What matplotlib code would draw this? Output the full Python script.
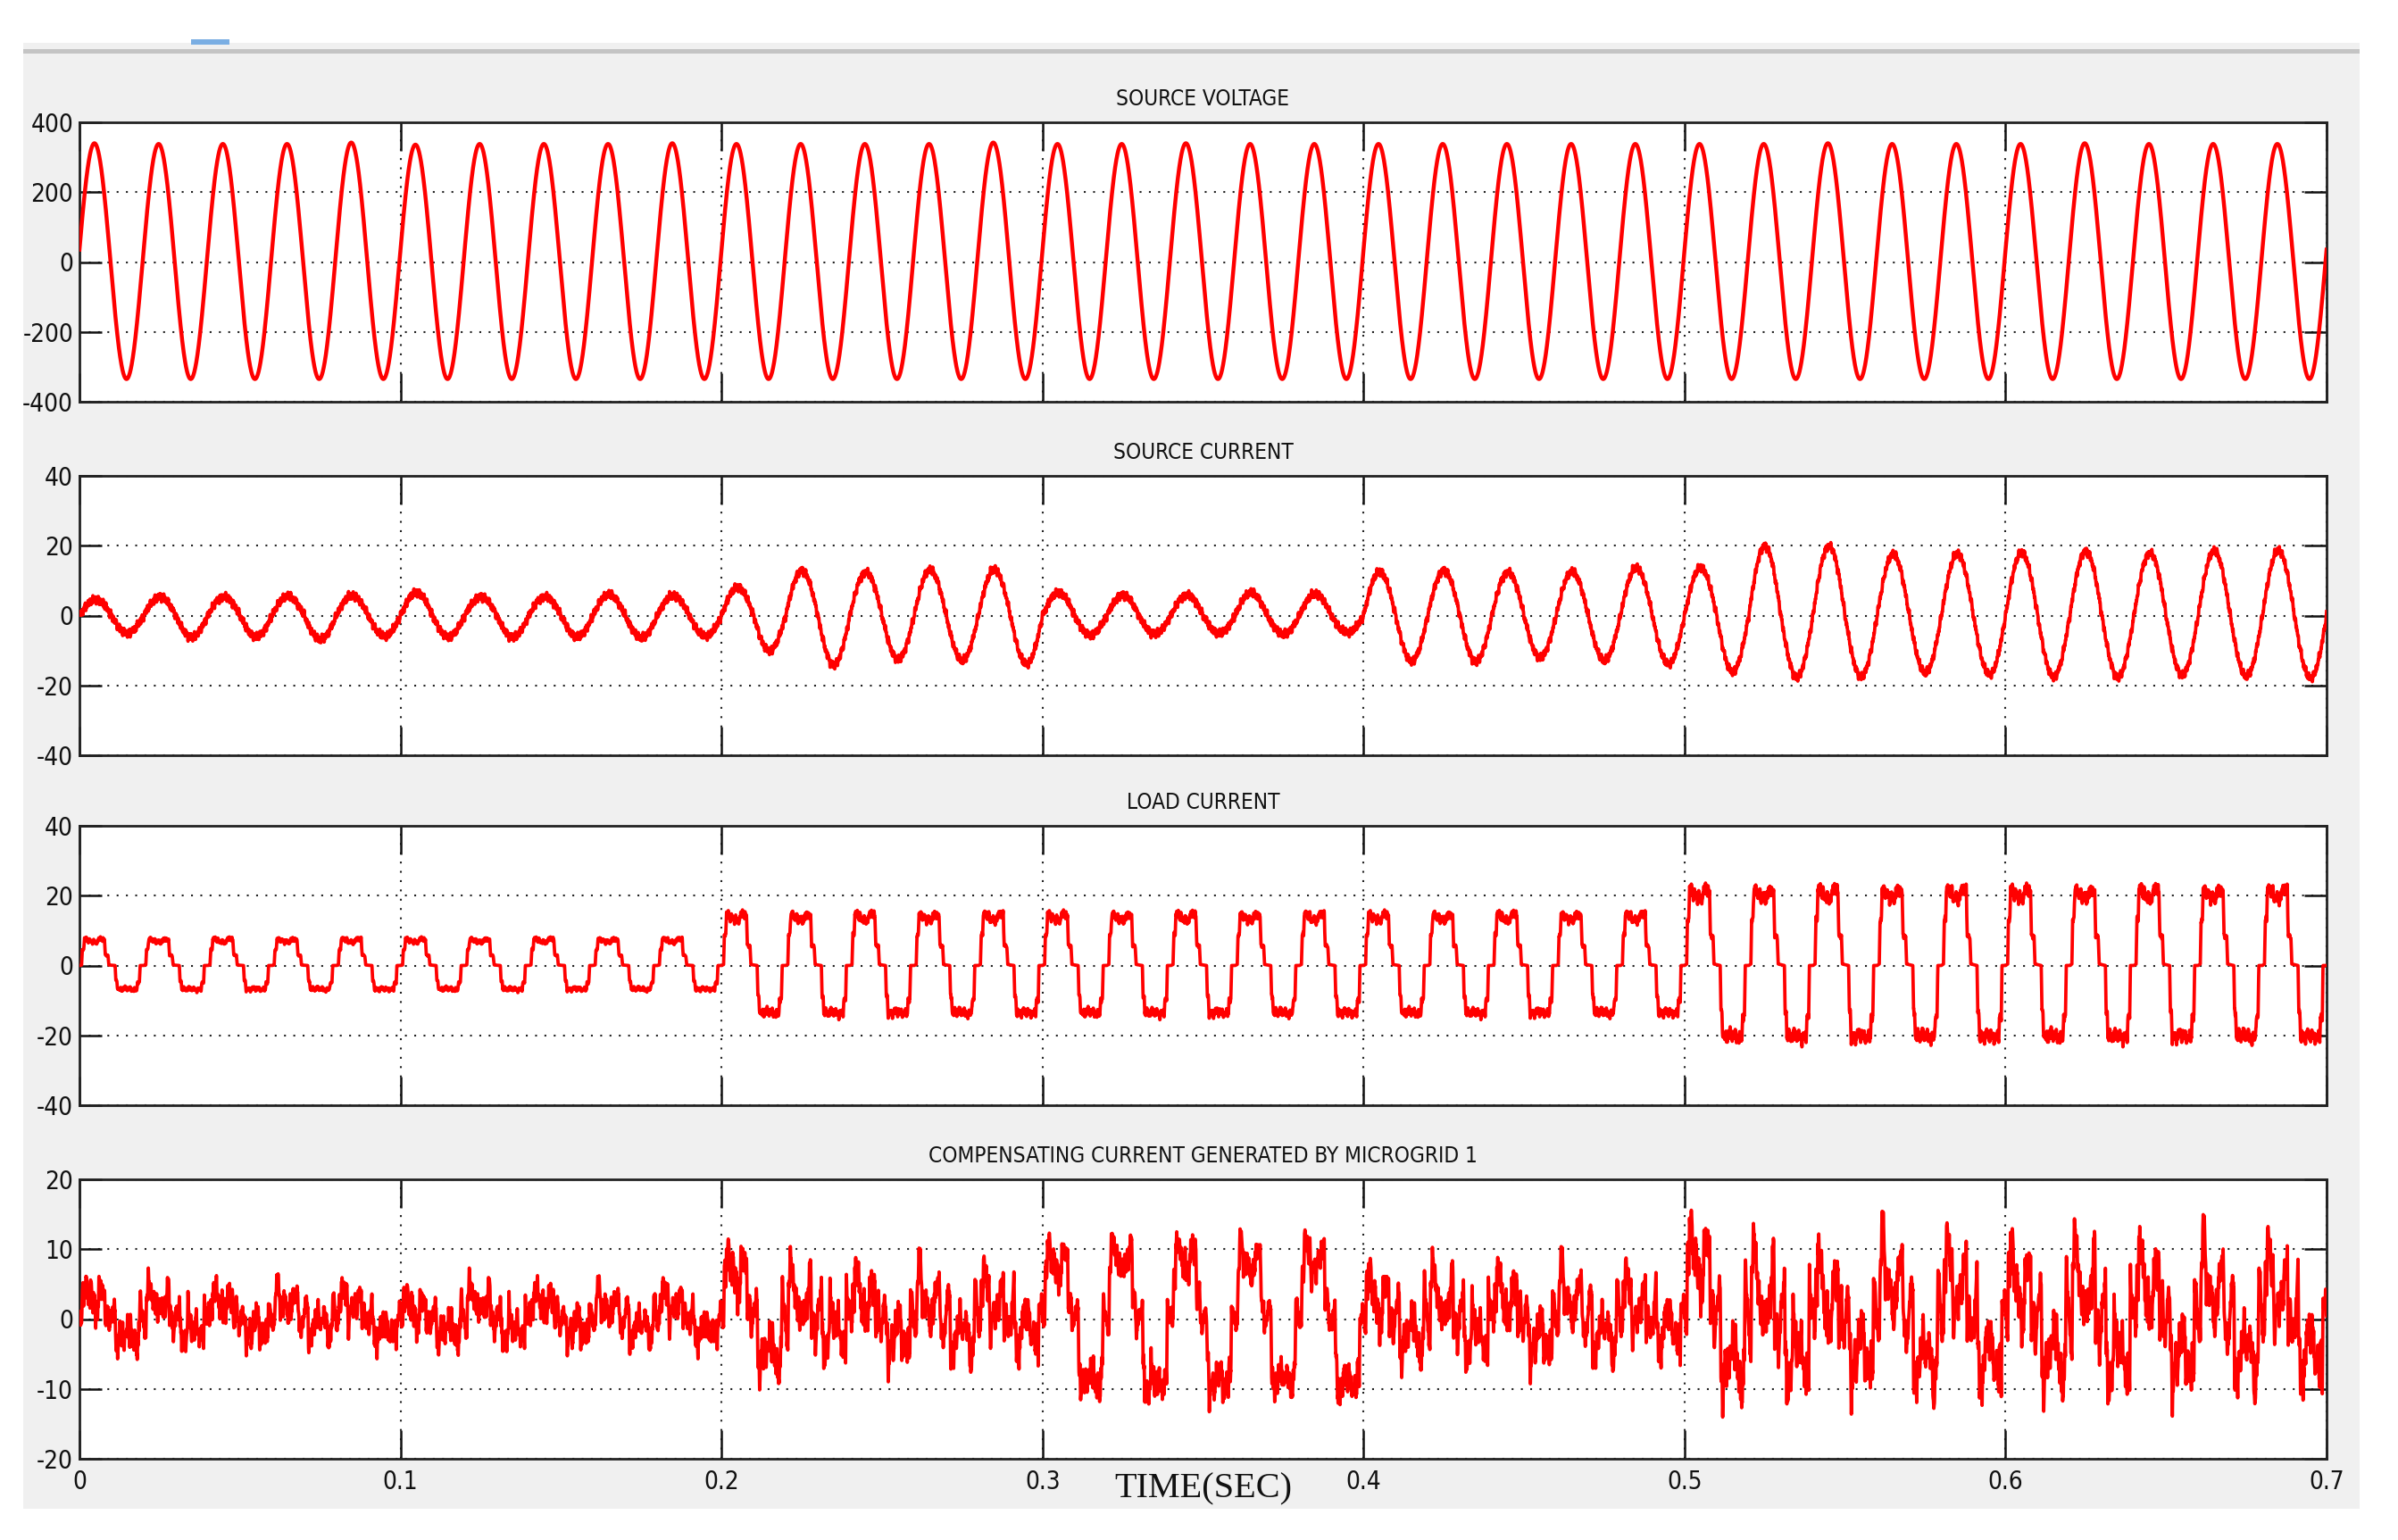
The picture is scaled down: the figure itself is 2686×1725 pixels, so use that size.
import numpy as np
import matplotlib
matplotlib.use("Agg")
import matplotlib.pyplot as plt
from matplotlib import font_manager
from matplotlib.patches import Rectangle

# ------------------------------------------------------------------ data
TITLES = ["SOURCE VOLTAGE", "SOURCE CURRENT", "LOAD CURRENT",
          "COMPENSATING CURRENT GENERATED BY MICROGRID 1"]
X_LABEL = "TIME(SEC)"
X_TICKS = [0, 0.1, 0.2, 0.3, 0.4, 0.5, 0.6, 0.7]
X_TICK_LABELS = ["0", "0.1", "0.2", "0.3", "0.4", "0.5", "0.6", "0.7"]
Y_TICKS_V = [-400, -200, 0, 200, 400]
Y_TICK_LABELS_V = ["-400", "-200", "0", "200", "400"]
Y_TICKS_I = [-40, -20, 0, 20, 40]
Y_TICK_LABELS_I = ["-40", "-20", "0", "20", "40"]
Y_TICKS_C = [-20, -10, 0, 10, 20]
Y_TICK_LABELS_C = ["-20", "-10", "0", "10", "20"]

GRID_FREQ_HZ = 50          # 35 cycles in 0.7 s
T_END = 0.7
VOLTAGE_PHASE_DEG = 6

# per-cycle positive / negative peaks (35 cycles)
SOURCE_VOLTAGE_POS = [340, 338, 338, 338, 342, 336, 338, 338, 338, 340,
                      338, 338, 338, 338, 342, 338, 338, 340, 338, 338,
                      338, 338, 338, 338, 338, 338, 338, 340, 338, 338,
                      338, 340, 338, 338, 338]
SOURCE_VOLTAGE_NEG = [-335, -335, -335, -335, -335, -335, -335, -335, -335, -335,
                      -335, -335, -335, -335, -335, -335, -335, -335, -335, -335,
                      -335, -335, -335, -335, -335, -335, -335, -335, -335, -335,
                      -335, -335, -335, -335, -335]

SOURCE_CURRENT_POS = [4.5, 5.5, 5.5, 5.5, 5.5, 6.5, 5.5, 5.5, 6.0, 5.5,
                      8.0, 13.0, 12.5, 13.0, 13.0,
                      6.5, 6.0, 6.0, 6.5, 6.0,
                      12.5, 13.0, 12.5, 12.5, 13.5,
                      13.7, 20.0, 20.0, 17.5, 17.5, 18.0, 18.5, 18.0, 18.5, 18.5]
SOURCE_CURRENT_NEG = [-5.0, -6.0, -6.0, -7.0, -6.0, -6.0, -6.0, -6.0, -6.5, -6.0,
                      -10.0, -14.0, -12.5, -13.0, -14.0,
                      -5.5, -5.0, -5.0, -5.5, -5.0,
                      -13.0, -13.0, -12.0, -13.0, -14.0,
                      -16.0, -17.5, -17.5, -16.5, -17.0, -17.5, -17.5, -17.0, -17.5, -18.0]

LOAD_CURRENT_POS = [7.5] * 10 + [14.5] * 15 + [21.5] * 10
LOAD_CURRENT_NEG = [-7.0] * 10 + [-14.0] * 15 + [-21.0] * 10

# one-cycle shape of the load current (degrees, fraction of the peak)
LOAD_SHAPE_DEG = [0, 12, 16, 24, 28, 40, 50, 58, 70, 80, 95, 105, 118, 130, 140,
                  145, 160, 165, 200, 204, 210, 214, 228, 240, 255, 268, 282, 298,
                  310, 322, 326, 336, 340, 360]
LOAD_SHAPE_VAL = [0.0, 0.02, 0.6, 0.62, 1.0, 1.03, 0.92, 1.0, 0.86, 0.95, 0.84, 0.97,
                  1.03, 0.98, 1.0, 0.4, 0.38, 0.02, 0.0, -0.62, -0.64, -1.0, -0.93,
                  -1.02, -0.88, -1.0, -0.92, -1.03, -0.95, -1.0, -0.7, -0.7, 0.0, 0.0]

# switching ripple content (Hz, amplitude, phase rad)
SOURCE_RIPPLE_HZ = [730, 1230, 2170, 3390, 4710]
SOURCE_RIPPLE_AMP = [0.35, 0.5, 0.4, 0.3, 0.25]
SOURCE_RIPPLE_PH = [0.4, 1.3, 2.2, 0.7, 3.1]
LOAD_RIPPLE_HZ = [1370, 2290, 3830]
LOAD_RIPPLE_AMP = [0.035, 0.03, 0.025]
LOAD_RIPPLE_PH = [0.9, 2.4, 1.6]
COMP_RIPPLE_HZ = [330, 470, 790, 1130, 1610, 2350, 3470]
COMP_RIPPLE_AMP = [1.0, 0.9, 0.8, 0.6, 0.5, 0.4, 0.3]
COMP_RIPPLE_PH = [0.3, 1.7, 2.9, 0.8, 4.1, 5.2, 1.1]
SEGMENT_START = [0.0, 0.2, 0.3, 0.4, 0.5]
COMP_RIPPLE_SCALE = [1.0, 1.25, 0.7, 1.2, 1.5]

# ------------------------------------------------------------------ build series
t = np.linspace(0, T_END, 35001)
cyc = t * GRID_FREQ_HZ
k = np.minimum(cyc.astype(int), len(SOURCE_VOLTAGE_POS) - 1)
frac = cyc - k
theta = 2 * np.pi * frac


def two_sided(shape, pos, neg):
    pos = np.asarray(pos)[k]
    neg = np.abs(np.asarray(neg))[k]
    return np.where(shape >= 0, shape * pos, shape * neg)


def ripple(hz, amp, ph):
    out = np.zeros_like(t)
    for f, a, p in zip(hz, amp, ph):
        out += a * np.sin(2 * np.pi * f * t + p)
    return out


v_src = two_sided(np.sin(theta + np.deg2rad(VOLTAGE_PHASE_DEG)),
                  SOURCE_VOLTAGE_POS, SOURCE_VOLTAGE_NEG)
i_src = two_sided(np.sin(theta), SOURCE_CURRENT_POS, SOURCE_CURRENT_NEG) \
    + ripple(SOURCE_RIPPLE_HZ, SOURCE_RIPPLE_AMP, SOURCE_RIPPLE_PH)
load_shape = np.interp(np.rad2deg(theta), LOAD_SHAPE_DEG, LOAD_SHAPE_VAL)
i_load = two_sided(load_shape, LOAD_CURRENT_POS, LOAD_CURRENT_NEG)
i_load = i_load * (1 + ripple(LOAD_RIPPLE_HZ, LOAD_RIPPLE_AMP, LOAD_RIPPLE_PH))
seg = np.searchsorted(SEGMENT_START, t, side="right") - 1
i_comp = (i_load - i_src) + np.asarray(COMP_RIPPLE_SCALE)[seg] * \
    ripple(COMP_RIPPLE_HZ, COMP_RIPPLE_AMP, COMP_RIPPLE_PH) * 0.8

SERIES = [v_src, i_src, i_load, i_comp]
LINE_W = [3.2, 2.7, 2.7, 2.7]
YTICKS = [Y_TICKS_V, Y_TICKS_I, Y_TICKS_I, Y_TICKS_C]
YLABELS = [Y_TICK_LABELS_V, Y_TICK_LABELS_I, Y_TICK_LABELS_I, Y_TICK_LABELS_C]

# ------------------------------------------------------------------ fonts
names = {f.name for f in font_manager.fontManager.ttflist}
if "Liberation Sans Narrow" in names:
    SANS, STRETCH = "Liberation Sans Narrow", "normal"
else:
    SANS, STRETCH = "DejaVu Sans", "condensed"
SERIF = "Liberation Serif" if "Liberation Serif" in names else "DejaVu Serif"

# ------------------------------------------------------------------ figure
W, H = 2686, 1725
fig = plt.figure(figsize=(W / 100, H / 100), dpi=100)
fig.patch.set_facecolor("white")


def frect(x0, y0, x1, y1, color, z=-5):
    fig.add_artist(Rectangle((x0 / W, 1 - y1 / H), (x1 - x0) / W, (y1 - y0) / H,
                             transform=fig.transFigure, facecolor=color,
                             edgecolor="none", zorder=z))


frect(26, 48, 2643, 56, "#f0f0f0")
frect(26, 55, 2643, 60, "#c4c4c4")
frect(26, 60, 2643, 1690, "#f0f0f0")
frect(214, 44, 257, 50, "#7aaee3")

LEFT, RIGHT = 89, 2606
TOPS = [137, 533, 925, 1321]
AX_H = 313

for i in range(4):
    ax = fig.add_axes([LEFT / W, 1 - (TOPS[i] + AX_H) / H, (RIGHT - LEFT) / W, AX_H / H])
    ax.set_facecolor("white")
    ax.plot(t, SERIES[i], color="#ff0000", linewidth=LINE_W[i], zorder=3)
    ax.set_xlim(0, T_END)
    ax.set_ylim(YTICKS[i][0], YTICKS[i][-1])
    ax.set_xticks(X_TICKS)
    ax.set_yticks(YTICKS[i])
    ax.set_yticklabels(YLABELS[i], fontfamily=SANS, fontstretch=STRETCH, fontsize=20)
    if i == 3:
        ax.set_xticklabels(X_TICK_LABELS, fontfamily=SANS, fontstretch=STRETCH, fontsize=20)
    else:
        ax.set_xticklabels([])
    ax.tick_params(axis="x", direction="in", length=23, width=1.8, top=True,
                   bottom=True, pad=9, colors="#111111")
    ax.tick_params(axis="y", direction="in", length=18, width=1.8, left=True,
                   right=True, pad=5, colors="#111111")
    ax.grid(True, color="#222222", linestyle=(0, (1, 4)), linewidth=1.5, zorder=1)
    for sp in ax.spines.values():
        sp.set_linewidth(2.0)
        sp.set_color("#222222")
    ax.set_title(TITLES[i], fontfamily=SANS, fontstretch=STRETCH, fontsize=17.5,
                 pad=14, color="#111111")

fig.text((LEFT + RIGHT) / 2 / W, 1 - 1668 / H, X_LABEL, fontfamily=SERIF,
         fontsize=29, ha="center", va="center", color="#111111")

fig.savefig("out.png", dpi=100, facecolor=fig.get_facecolor())
